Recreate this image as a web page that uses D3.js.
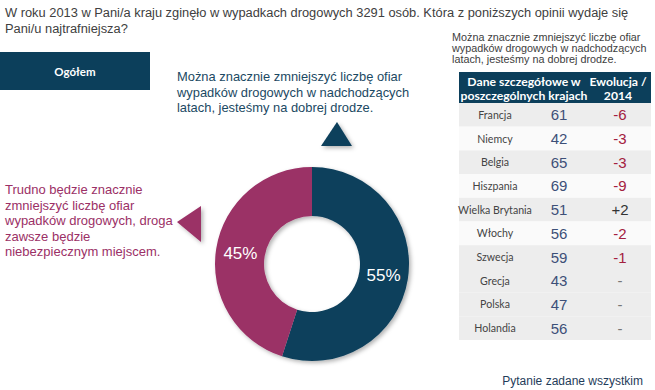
<!DOCTYPE html>
<html><head><meta charset="utf-8">
<script src="https://cdn.jsdelivr.net/npm/d3@7"></script>
<style>body{margin:0;background:#fff}svg{display:block}</style>
</head><body><svg id="c" width="655" height="390"></svg>
<script>
const titleLines = ["W roku 2013 w Pani/a kraju zginęło w wypadkach drogowych 3291 osób. Która z poniższych opinii wydaje się","Pani/u najtrafniejsza?"];
const segmentLabels = ["Można znacznie zmniejszyć liczbę ofiar wypadków drogowych w nadchodzących latach, jesteśmy na dobrej drodze.","Trudno będzie znacznie zmniejszyć liczbę ofiar wypadków drogowych, droga zawsze będzie niebezpiecznym miejscem."];
const segmentValues = [55, 45];
const topLabelLines = ["Można znacznie zmniejszyć liczbę ofiar","wypadków drogowych w nadchodzących","latach, jesteśmy na dobrej drodze."];
const leftLabelLines = ["Trudno będzie znacznie","zmniejszyć liczbę ofiar","wypadków drogowych, droga","zawsze będzie","niebezpiecznym miejscem."];
const groupLabel = "Ogółem";
const tableTitleLines = ["Można znacznie zmniejszyć liczbę ofiar","wypadków drogowych w nadchodzących","latach, jesteśmy na dobrej drodze."];
const headerCol1 = ["Dane szczegółowe w","poszczególnych krajach"];
const headerCol2 = ["Ewolucja /","2014"];
const countries = ["Francja","Niemcy","Belgia","Hiszpania","Wielka Brytania","Włochy","Szwecja","Grecja","Polska","Holandia"];
const countryValues = [61,42,65,69,51,56,59,43,47,56];
const evolution = ["-6","-3","-3","-9","+2","-2","-1","-","-","-"];
const footnote = "Pytanie zadane wszystkim";

const svg = d3.select("#c");
const DARK = "#0c3f5b", PINK = "#9b3066";

const defs = svg.append("defs");
const f = defs.append("filter").attr("id","sh").attr("x","-20%").attr("y","-20%").attr("width","150%").attr("height","150%");
f.append("feDropShadow").attr("dx",2).attr("dy",2).attr("stdDeviation",2).attr("flood-color","#000").attr("flood-opacity",0.3);

// title
svg.append("g").selectAll("text").data(titleLines).join("text")
  .attr("x",5).attr("y",(d,i)=>17+i*15.5)
  .attr("font-family","Liberation Sans, Arial, sans-serif").attr("font-size",12.85).attr("fill","#404040").text(d=>d);

// Ogółem box
svg.append("rect").attr("x",0).attr("y",52).attr("width",150).attr("height",38).attr("fill",DARK);
svg.append("text").attr("x",75).attr("y",75.5).attr("text-anchor","middle")
  .attr("font-family","Lato, sans-serif").attr("font-weight","bold").attr("font-size",11.5).attr("fill","#fff").text(groupLabel);

// donut
const cx = 312, cy = 264, R = 97, r0 = 48;
const pie = d3.pie().sort(null).value(d=>d.v);
const arcs = pie(segmentValues.map((v,i)=>({v, label:segmentLabels[i], color: i===0?DARK:PINK})));
const arc = d3.arc().innerRadius(r0).outerRadius(R);
const g = svg.append("g").attr("transform",`translate(${cx},${cy})`);
g.append("g").attr("filter","url(#sh)").selectAll("path").data(arcs).join("path")
  .attr("d",arc).attr("fill",d=>d.data.color);
g.selectAll("text.pct").data(arcs).join("text").attr("class","pct")
  .attr("x",d=>arc.centroid(d)[0]).attr("y",d=>arc.centroid(d)[1]+6)
  .attr("text-anchor","middle").attr("font-family","Liberation Sans, Arial, sans-serif")
  .attr("font-size",17).attr("fill","#fff").text(d=>d.data.v+"%");

// callout triangles
const triTop = [[cx+9,cy-118],[cx+25,cy-142],[cx+40,cy-118]];
const triLeft = [[cx-111,cy-58],[cx-135,cy-42],[cx-111,cy-22]];
svg.append("path").attr("d",d3.line()(triTop)+"Z").attr("fill",DARK).attr("filter","url(#sh)");
svg.append("path").attr("d",d3.line()(triLeft)+"Z").attr("fill",PINK).attr("filter","url(#sh)");

svg.append("g").selectAll("text").data(topLabelLines).join("text")
  .attr("x",177).attr("y",(d,i)=>81+i*15.5)
  .attr("font-family","Liberation Sans, Arial, sans-serif").attr("font-size",12.9).attr("fill","#1b4963").text(d=>d);
svg.append("g").selectAll("text").data(leftLabelLines).join("text")
  .attr("x",5).attr("y",(d,i)=>194+i*15.6)
  .attr("font-family","Liberation Sans, Arial, sans-serif").attr("font-size",13).attr("fill",PINK).text(d=>d);

// table
svg.append("g").selectAll("text").data(tableTitleLines).join("text")
  .attr("x",452).attr("y",(d,i)=>41+i*11)
  .attr("font-family","Liberation Sans, Arial, sans-serif").attr("font-size",10.8).attr("fill","#404040").text(d=>d);

const tx0 = 459, tx1 = 651;
svg.append("rect").attr("x",tx0).attr("y",72).attr("width",tx1-tx0).attr("height",31).attr("fill",DARK);
const hdr = svg.append("g").attr("font-family","Lato, sans-serif").attr("font-weight","bold").attr("font-size",12.2).attr("fill","#fff").attr("text-anchor","middle");
hdr.selectAll("text.h1").data(headerCol1).join("text").attr("class","h1").attr("x",524).attr("y",(d,i)=>86+i*14).text(d=>d);
hdr.selectAll("text.h2").data(headerCol2).join("text").attr("class","h2").attr("x",618).attr("y",(d,i)=>86+i*14).text(d=>d);

const y = d3.scaleBand().domain(countries).range([103,340]);
const rows = svg.append("g").selectAll("g").data(countries).join("g")
  .attr("transform",d=>`translate(0,${y(d)})`);
rows.append("rect").attr("x",tx0).attr("width",tx1-tx0).attr("height",y.bandwidth())
  .attr("fill",(d,i)=> (i<6 ? i%2===0 : true) ? "#ededed" : "#fafafa");
rows.append("text").attr("x",495).attr("y",y.bandwidth()/2+4).attr("text-anchor","middle")
  .attr("font-family","Lato, sans-serif").attr("font-size",10.6).attr("fill","#444").text(d=>d);
rows.append("text").attr("x",559).attr("y",y.bandwidth()/2+5.5).attr("text-anchor","middle")
  .attr("font-family","Liberation Sans, Arial, sans-serif").attr("font-size",15).attr("fill","#3d5078")
  .text((d,i)=>countryValues[i]);
rows.append("text").attr("x",620).attr("y",y.bandwidth()/2+5.5).attr("text-anchor","middle")
  .attr("font-family","Liberation Sans, Arial, sans-serif").attr("font-size",15)
  .attr("fill",(d,i)=> evolution[i].startsWith("-") && evolution[i].length>1 ? "#a3203f" : (evolution[i]==="-" ? "#777" : "#333"))
  .text((d,i)=>evolution[i]);

svg.append("text").attr("x",643).attr("y",385).attr("text-anchor","end")
  .attr("font-family","Liberation Sans, Arial, sans-serif").attr("font-size",12).attr("fill","#1f3c5a").text(footnote);
</script></body></html>
